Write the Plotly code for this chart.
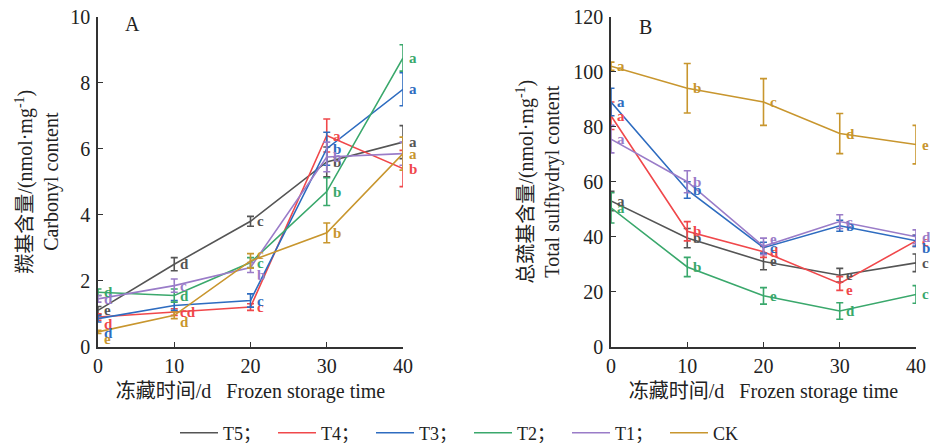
import plotly.graph_objects as go

# Storage days
days = [0, 10, 20, 30, 40]
groups = ["T5", "T4", "T3", "T2", "T1", "CK"]
legend_names = ["T5；", "T4；", "T3；", "T2；", "T1；", "CK"]
colors = {"T5": "#555555", "T4": "#f0484b", "T3": "#2e6cc0", "T2": "#3aa86c",
          "T1": "#9a7cc8", "CK": "#c8962e"}

# Carbonyl content (nmol/mg)
carbonyl_T5 = [1.1, 2.5, 3.8, 5.6, 6.2]
carbonyl_T4 = [0.9, 1.05, 1.2, 6.4, 5.4]
carbonyl_T3 = [0.85, 1.25, 1.4, 6.0, 7.8]
carbonyl_T2 = [1.65, 1.55, 2.55, 4.7, 8.75]
carbonyl_T1 = [1.45, 1.85, 2.4, 5.75, 5.85]
carbonyl_CK = [0.45, 0.95, 2.6, 3.45, 5.85]

carbonyl_err_T5 = [0.12, 0.2, 0.15, 0.45, 0.5]
carbonyl_err_T4 = [0.1, 0.1, 0.1, 0.5, 0.55]
carbonyl_err_T3 = [0.1, 0.15, 0.2, 0.5, 0.5]
carbonyl_err_T2 = [0.1, 0.2, 0.15, 0.42, 0.4]
carbonyl_err_T1 = [0.1, 0.2, 0.15, 0.45, 0.35]
carbonyl_err_CK = [0.05, 0.1, 0.22, 0.3, 0.5]

carbonyl_sig_T5 = ["e", "d", "c", "b", "a"]
carbonyl_sig_T4 = ["d", "cd", "c", "a", "b"]
carbonyl_sig_T3 = ["d", "", "c", "b", "a"]
carbonyl_sig_T2 = ["d", "d", "c", "b", "a"]
carbonyl_sig_T1 = ["d", "c", "b", "b", ""]
carbonyl_sig_CK = ["e", "d", "c", "b", "a"]

# Total sulfhydryl content (nmol/mg)
sulfhydryl_T5 = [53, 39.5, 31, 26, 30.5]
sulfhydryl_T4 = [84, 42, 34.5, 23, 38.5]
sulfhydryl_T3 = [89, 57, 36, 44, 38.5]
sulfhydryl_T2 = [50.5, 29, 18.5, 13, 19]
sulfhydryl_T1 = [75.5, 60, 36.5, 45.5, 40]
sulfhydryl_CK = [102, 94, 89, 77.5, 73.5]

sulfhydryl_err_T5 = [3.5, 3.5, 3, 2.5, 3.2]
sulfhydryl_err_T4 = [5, 3.5, 2, 2.5, 2]
sulfhydryl_err_T3 = [5, 3, 2, 2, 2]
sulfhydryl_err_T2 = [5.5, 3.5, 3, 3, 3.2]
sulfhydryl_err_T1 = [5, 4, 3, 2.5, 2.5]
sulfhydryl_err_CK = [1.5, 9, 8.5, 7.3, 7]

sulfhydryl_sig_T5 = ["a", "b", "e", "e", "c"]
sulfhydryl_sig_T4 = ["a", "b", "d", "e", "c"]
sulfhydryl_sig_T3 = ["a", "b", "c", "b", "b"]
sulfhydryl_sig_T2 = ["a", "b", "e", "d", "c"]
sulfhydryl_sig_T1 = ["a", "b", "e", "c", "d"]
sulfhydryl_sig_CK = ["a", "b", "c", "d", "e"]

carbonyl = {"T5": carbonyl_T5, "T4": carbonyl_T4, "T3": carbonyl_T3,
            "T2": carbonyl_T2, "T1": carbonyl_T1, "CK": carbonyl_CK}
carbonyl_err = {"T5": carbonyl_err_T5, "T4": carbonyl_err_T4, "T3": carbonyl_err_T3,
                "T2": carbonyl_err_T2, "T1": carbonyl_err_T1, "CK": carbonyl_err_CK}
carbonyl_sig = {"T5": carbonyl_sig_T5, "T4": carbonyl_sig_T4, "T3": carbonyl_sig_T3,
                "T2": carbonyl_sig_T2, "T1": carbonyl_sig_T1, "CK": carbonyl_sig_CK}
sulfhydryl = {"T5": sulfhydryl_T5, "T4": sulfhydryl_T4, "T3": sulfhydryl_T3,
              "T2": sulfhydryl_T2, "T1": sulfhydryl_T1, "CK": sulfhydryl_CK}
sulfhydryl_err = {"T5": sulfhydryl_err_T5, "T4": sulfhydryl_err_T4, "T3": sulfhydryl_err_T3,
                  "T2": sulfhydryl_err_T2, "T1": sulfhydryl_err_T1, "CK": sulfhydryl_err_CK}
sulfhydryl_sig = {"T5": sulfhydryl_sig_T5, "T4": sulfhydryl_sig_T4, "T3": sulfhydryl_sig_T3,
                  "T2": sulfhydryl_sig_T2, "T1": sulfhydryl_sig_T1, "CK": sulfhydryl_sig_CK}

# vertical nudge of the letter labels: 0 = level, negative = below, positive = above
carbonyl_nudge = {"T5": [0, 0, 0, 0, 0], "T4": [-1, 0, 0, 0, 0], "T3": [-2, 0, 0, 0, 0],
                  "T2": [0, 0, 0, 0, 0], "T1": [0, 0, -1, 0, 0], "CK": [-1, -1, 1, 0, 0]}
sulfhydryl_nudge = {"T5": [0, 0, 0, 0, 0], "T4": [0, 0, 0, -1, 0], "T3": [0, 0, 0, 0, -1],
                    "T2": [0, 0, 0, 0, 0], "T1": [0, 0, 1, 0, 0], "CK": [0, 0, 0, 0, 0]}

SERIF = "Liberation Serif, Times New Roman, Noto Sans CJK SC, serif"
INK = "#222222"

fig = go.Figure()
annotations = []

for panel, (vals, errs, sigs, nudges) in enumerate([
        (carbonyl, carbonyl_err, carbonyl_sig, carbonyl_nudge),
        (sulfhydryl, sulfhydryl_err, sulfhydryl_sig, sulfhydryl_nudge)]):
    xa = "x" if panel == 0 else "x2"
    ya = "y" if panel == 0 else "y2"
    for g, lname in zip(groups, legend_names):
        fig.add_trace(go.Scatter(
            x=days, y=vals[g], mode="lines", name=lname,
            xaxis=xa, yaxis=ya, cliponaxis=False,
            line=dict(color=colors[g], width=1.6),
            error_y=dict(type="data", array=errs[g], color=colors[g],
                         thickness=1.6, width=3.5),
            showlegend=(panel == 0), legendgroup=g,
        ))
        for d, v, s, n in zip(days, vals[g], sigs[g], nudges[g]):
            if not s:
                continue
            annotations.append(dict(
                x=d, y=v, xref=xa, yref=ya, text="<b>" + s + "</b>",
                showarrow=False, xanchor="left", yanchor="middle",
                xshift=4, yshift=7 * n,
                font=dict(family=SERIF, size=15, color=colors[g])))

# panel letters
annotations.append(dict(x=132 / 930, y=1 - 24 / 443, xref="paper", yref="paper", text="A",
                        showarrow=False, xanchor="center", yanchor="middle",
                        font=dict(family=SERIF, size=20, color=INK)))
annotations.append(dict(x=645 / 930, y=1 - 27 / 443, xref="paper", yref="paper", text="B",
                        showarrow=False, xanchor="center", yanchor="middle",
                        font=dict(family=SERIF, size=20, color=INK)))

xtitle = "冻藏时间/d   Frozen storage time"
axis_common = dict(showline=True, linecolor="#333", linewidth=1.6, ticks="inside",
                   ticklen=5, tickwidth=1.4, tickcolor="#333", showgrid=False,
                   zeroline=False, automargin=False,
                   tickfont=dict(family=SERIF, size=20, color=INK),
                   title_font=dict(family=SERIF, size=20, color=INK))

ydom = [1 - 346.7 / 443, 1 - 16.7 / 443]

fig.update_layout(
    width=930, height=443,
    margin=dict(l=0, r=0, t=0, b=0, autoexpand=False),
    paper_bgcolor="white", plot_bgcolor="white",
    annotations=annotations,
    xaxis=dict(domain=[98 / 930, 403 / 930], range=[0, 40], tickvals=[0, 10, 20, 30, 40],
               anchor="y", ticklabelstandoff=0,
               title=dict(text=xtitle, standoff=8), **axis_common),
    yaxis=dict(domain=ydom, range=[0, 10], tickvals=[0, 2, 4, 6, 8, 10], anchor="x",
               ticklabelstandoff=2,
               title=dict(text="羰基含量/(nmol·mg<sup>-1</sup>)<br>Carbonyl content",
                          standoff=6),
               **axis_common),
    xaxis2=dict(domain=[611 / 930, 916 / 930], range=[0, 40], tickvals=[0, 10, 20, 30, 40],
                anchor="y2", ticklabelstandoff=0,
                title=dict(text=xtitle, standoff=8), **axis_common),
    yaxis2=dict(domain=ydom, range=[0, 120], tickvals=[0, 20, 40, 60, 80, 100, 120],
                anchor="x2", ticklabelstandoff=2,
                title=dict(text="总巯基含量/(nmol·mg<sup>-1</sup>)<br>Total sulfhydryl content",
                           standoff=8),
                **axis_common),
    legend=dict(orientation="h", x=175 / 930, xanchor="left", y=1 - 433 / 443,
                yanchor="middle", font=dict(family=SERIF, size=18, color=INK),
                itemwidth=38, entrywidth=45, entrywidthmode="pixels",
                bgcolor="rgba(0,0,0,0)"),
)

fig.write_html("out.html")
